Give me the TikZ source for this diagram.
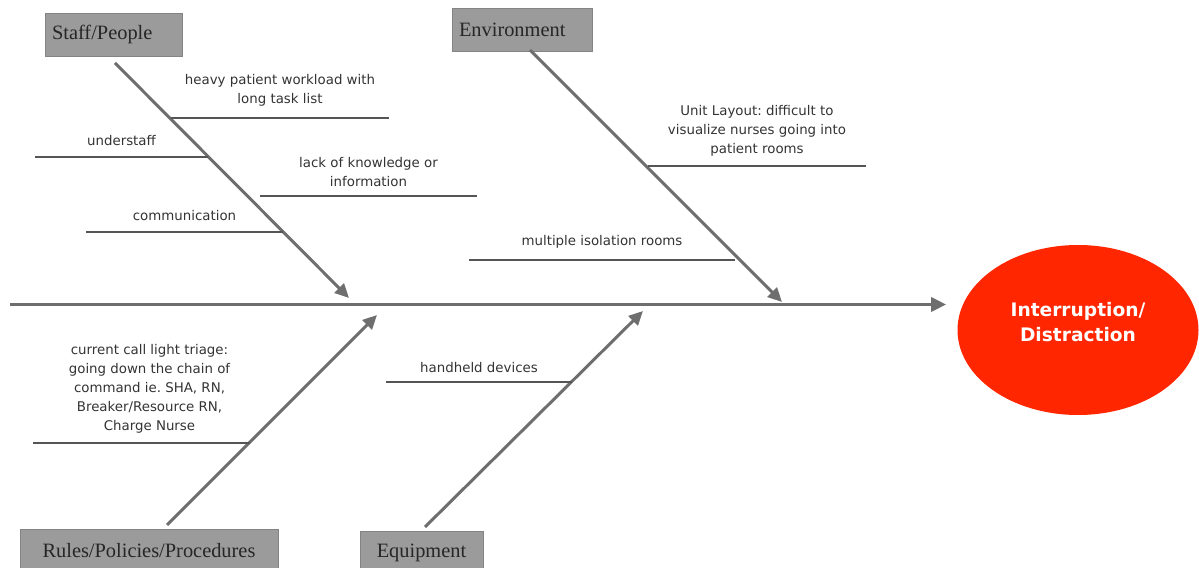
\documentclass[tikz,border=0pt]{standalone}
\usepackage{fontspec}
\setmainfont{Liberation Serif}
\newfontfamily\causefont{DejaVu Sans}
\usepackage{tikz}
\usetikzlibrary{positioning,shapes,arrows.meta,calc}
\definecolor{bonegray}{RGB}{110, 110, 110}
\definecolor{twiggray}{RGB}{85, 85, 85}
\definecolor{boxgray}{RGB}{155, 155, 155}
\definecolor{effectred}{RGB}{255, 38, 0}
\frenchspacing

\begin{document}
\begin{tikzpicture}[
        category/.style={rectangle, draw=boxgray!85!black, fill=boxgray, minimum height=0.86cm, inner xsep=0.14cm, align=left, text=black!85, font=\fontsize{11.6}{13}\selectfont},
        effect/.style={ellipse, fill=effectred, minimum width=4.82cm, minimum height=3.4cm, text=white, align=center, font=\causefont\bfseries\fontsize{10.6}{14.2}\selectfont},
        bone/.style={draw=bonegray, line width=1.7pt, -{Triangle[length=0.28cm, width=0.26cm]}},
        spine/.style={draw=bonegray, line width=2pt, -{Triangle[length=0.3cm, width=0.28cm]}},
        twig/.style={draw=twiggray, line width=0.8pt},
        cause/.style={align=center, text=black!80, inner sep=1pt, font=\causefont\fontsize{7.6}{10.8}\selectfont}
    ]
        \useasboundingbox (0,0) rectangle (23.98,11.34);

        % Effect
        \coordinate (tail) at (0.2,5.25);
        \node[effect] (eff) at (21.56,4.74) {};
        \node[effect, fill=none, minimum size=0pt, inner sep=0pt] (efftext) at ($(eff)+(0,0.15)$) {Interruption/\\Distraction};
        \draw[spine, shorten >=0.22cm] (tail) -- (tail -| eff.west);

        % Staff/People
        \node[category, text width=2.46cm] (staff) at (2.27,10.65) {Staff/People};
        \coordinate (s0) at (2.3,10.08);
        \coordinate (s1) at (6.98,5.38);
        \draw[bone] (s0) -- (s1);
        \coordinate (h1) at (3.42,8.98);
        \coordinate (h2) at (7.78,8.98);
        \draw[twig] (h1) -- node[cause, above=5pt] {heavy patient workload with\\long task list} (h2);
        \coordinate (u1) at (0.7,8.2);
        \coordinate (u2) at (4.16,8.2);
        \draw[twig] (u1) -- node[cause, above=5pt] {understaff} (u2);
        \coordinate (k1) at (5.2,7.42);
        \coordinate (k2) at (9.54,7.42);
        \draw[twig] (k1) -- node[cause, above=4pt] {lack of knowledge or\\information} (k2);
        \coordinate (c1) at (1.72,6.7);
        \coordinate (c2) at (5.66,6.7);
        \draw[twig] (c1) -- node[cause, above=5pt] {communication} (c2);

        % Environment
        \node[category, text width=2.52cm] (env) at (10.44,10.74) {Environment};
        \coordinate (e0) at (10.6,10.34);
        \coordinate (e1) at (15.64,5.3);
        \draw[bone] (e0) -- (e1);
        \coordinate (l1) at (12.96,8.02);
        \coordinate (l2) at (17.32,8.02);
        \draw[twig] (l1) -- node[cause, above=4pt] {Unit Layout: difficult to\\visualize nurses going into\\patient rooms} (l2);
        \coordinate (m1) at (9.38,6.14);
        \coordinate (m2) at (14.7,6.14);
        \draw[twig] (m1) -- node[cause, above=5pt] {multiple isolation rooms} (m2);

        % Rules/Policies/Procedures
        \node[category, align=center, minimum width=5.16cm] (rules) at (2.98,0.32) {Rules/Policies/Procedures};
        \coordinate (r0) at (3.34,0.84);
        \coordinate (r1) at (7.54,5.04);
        \draw[bone] (r0) -- (r1);
        \coordinate (t1) at (0.66,2.48);
        \coordinate (t2) at (5.0,2.48);
        \draw[twig] (t1) -- node[cause, above=4pt, xshift=0.16cm] {current call light triage:\\going down the chain of\\command ie. SHA, RN,\\Breaker/Resource RN,\\Charge Nurse} (t2);

        % Equipment
        \node[category, align=center, minimum width=2.46cm] (equip) at (8.43,0.28) {Equipment};
        \coordinate (q0) at (8.5,0.8);
        \coordinate (q1) at (12.86,5.12);
        \draw[bone] (q0) -- (q1);
        \coordinate (d1) at (7.72,3.7);
        \coordinate (d2) at (11.44,3.7);
        \draw[twig] (d1) -- node[cause, above=4pt] {handheld devices} (d2);
    \end{tikzpicture}
\end{document}
